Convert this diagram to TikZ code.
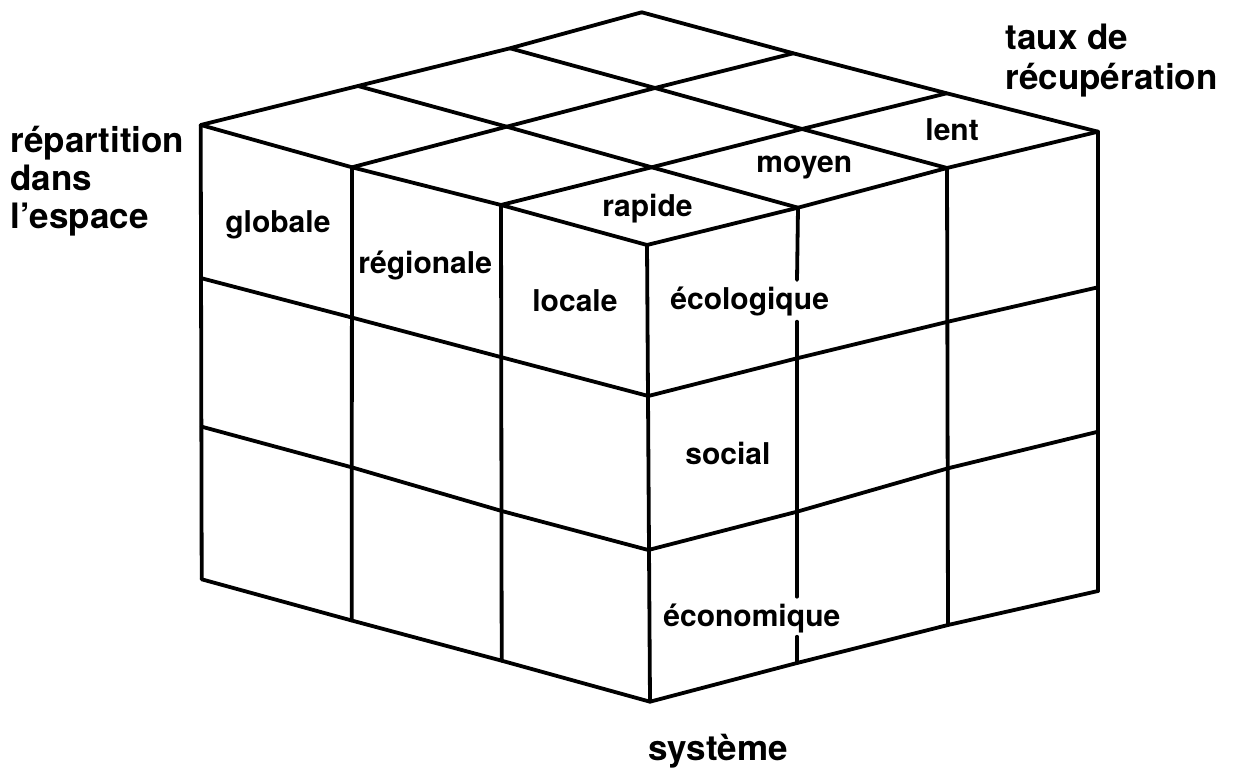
\documentclass[tikz,border=0pt]{standalone}
\usepackage{fontspec}
\setmainfont{TeX Gyre Heros}
\begin{document}
\begin{tikzpicture}[x=0.5pt,y=-0.5pt,
  grid/.style={line width=1.9pt,line join=round,line cap=round},
  axislabel/.style={inner sep=0pt,anchor=base west,font=\fontsize{17.5}{20}\selectfont\bfseries},
  celllabel/.style={inner sep=0pt,anchor=base west,font=\fontsize{15}{18}\selectfont\bfseries}]
\useasboundingbox (0,0) rectangle (1236,769);

% top face: grid points t<u><v>
\coordinate (t00) at (200.7,125);
\coordinate (t10) at (352,167.3);
\coordinate (t20) at (501,205);
\coordinate (t30) at (647,245);
\coordinate (t01) at (358,86);
\coordinate (t11) at (506.7,126.7);
\coordinate (t21) at (651.7,167.3);
\coordinate (t31) at (798,207.7);
\coordinate (t02) at (510,48.3);
\coordinate (t12) at (655,88);
\coordinate (t22) at (802,129);
\coordinate (t32) at (947,168);
\coordinate (t03) at (641.7,12.3);
\coordinate (t13) at (793.3,53.3);
\coordinate (t23) at (946.7,93.3);
\coordinate (t33) at (1098,131.7);

% left face: levels a (upper), b (middle), c (bottom)
\coordinate (la0) at (201.7,278.3);
\coordinate (la1) at (351.7,317.5);
\coordinate (la2) at (501.7,357.3);
\coordinate (la3) at (648.3,396);
\coordinate (lb0) at (201.7,426.7);
\coordinate (lb1) at (351.7,467.3);
\coordinate (lb2) at (501.7,511);
\coordinate (lb3) at (648.3,550);
\coordinate (lc0) at (201.7,579.3);
\coordinate (lc1) at (351.7,620.5);
\coordinate (lc2) at (501.7,660.7);
\coordinate (lc3) at (650,701.7);

% right face
\coordinate (ra1) at (797,358.3);
\coordinate (ra2) at (948,321.7);
\coordinate (ra3) at (1098,287.3);
\coordinate (rb1) at (797,511.7);
\coordinate (rb2) at (948,468.3);
\coordinate (rb3) at (1098,431.7);
\coordinate (rc1) at (797,663);
\coordinate (rc2) at (948,625);
\coordinate (rc3) at (1098,591);
% breaks in the second vertical of the right face, around the labels
\coordinate (g1a) at (797,280);
\coordinate (g1b) at (797,321.7);
\coordinate (g2a) at (797,596.7);
\coordinate (g2b) at (797,636.7);

% top face lines
\draw[grid] (t00) -- (t10) -- (t20) -- (t30);
\draw[grid] (t01) -- (t11) -- (t21) -- (t31);
\draw[grid] (t02) -- (t12) -- (t22) -- (t32);
\draw[grid] (t03) -- (t13) -- (t23) -- (t33);
\draw[grid] (t00) -- (t01) -- (t02) -- (t03);
\draw[grid] (t10) -- (t11) -- (t12) -- (t13);
\draw[grid] (t20) -- (t21) -- (t22) -- (t23);
\draw[grid] (t30) -- (t31) -- (t32) -- (t33);

% left face
\draw[grid] (t00) -- (lc0);
\draw[grid] (t10) -- (lc1);
\draw[grid] (t20) -- (lc2);
\draw[grid] (t30) -- (lc3);
\draw[grid] (la0) -- (la1) -- (la2) -- (la3);
\draw[grid] (lb0) -- (lb1) -- (lb2) -- (lb3);
\draw[grid] (lc0) -- (lc1) -- (lc2) -- (lc3);

% right face
\draw[grid] (t31) -- (g1a);
\draw[grid] (g1b) -- (g2a);
\draw[grid] (g2b) -- (rc1);
\draw[grid] (t32) -- (rc2);
\draw[grid] (t33) -- (rc3);
\draw[grid] (la3) -- (ra1) -- (ra2) -- (ra3);
\draw[grid] (lb3) -- (rb1) -- (rb2) -- (rb3);
\draw[grid] (lc3) -- (rc1) -- (rc2) -- (rc3);

% axis labels
\node[axislabel] (rep1) at (10,153) {répartition};
\node[axislabel] (rep2) at (10,191) {dans};
\node[axislabel] (rep3) at (10,229) {l’espace};
\node[axislabel] (taux1) at (1005,50) {taux de};
\node[axislabel] (taux2) at (1005,90) {récupération};
\node[axislabel] (sys) at (648,760) {système};

% cell labels
\node[celllabel] (glob) at (225,233) {globale};
\node[celllabel] (reg) at (358,274) {régionale};
\node[celllabel] (loc) at (532,311.7) {locale};
\node[celllabel] (rap) at (602,216.7) {rapide};
\node[celllabel] (moy) at (756,173) {moyen};
\node[celllabel] (lent) at (925,140.7) {lent};
\node[celllabel] (eco) at (670,310) {écologique};
\node[celllabel] (soc) at (685,465) {social};
\node[celllabel] (econ) at (663,626.7) {économique};
\end{tikzpicture}
\end{document}
